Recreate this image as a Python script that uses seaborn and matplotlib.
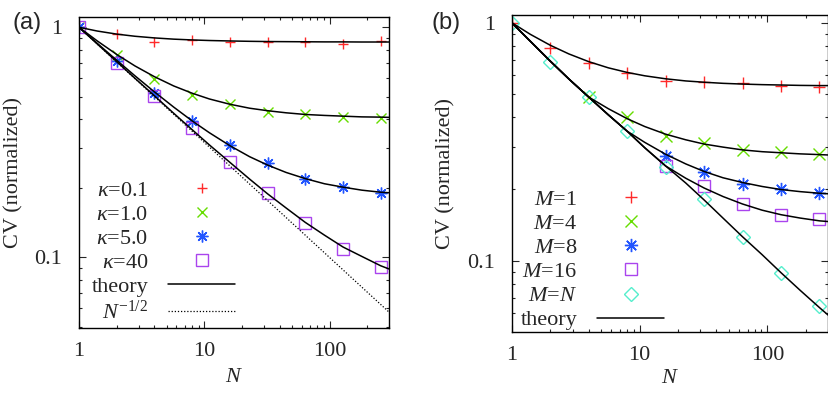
import matplotlib
matplotlib.use("Agg")
import matplotlib.pyplot as plt
import seaborn as sns
from matplotlib.ticker import LogLocator, NullFormatter

# N values of the simulation points and of the drawn theory curves
n_sim = [1, 2, 4, 8, 16, 32, 64, 128, 256]
n_theory = [1, 1.4, 2, 2.8, 4, 5.7, 8, 11, 16, 23, 32, 45, 64, 91, 128, 181, 256, 300]

# panel (a): different kappa
cv_k01 = [1.0, 0.933, 0.866, 0.883, 0.864, 0.864, 0.862, 0.850, 0.871]
cv_k1 = [1.0, 0.758, 0.599, 0.509, 0.463, 0.427, 0.420, 0.409, 0.404]
cv_k5 = [1.0, 0.714, 0.516, 0.391, 0.308, 0.256, 0.219, 0.202, 0.190]
cv_k40 = [1.0, 0.703, 0.502, 0.364, 0.261, 0.190, 0.141, 0.1087, 0.091]

th_k01 = [1.0, 0.963, 0.934, 0.914, 0.899, 0.888, 0.881, 0.876, 0.872, 0.869,
          0.867, 0.866, 0.865, 0.864, 0.864, 0.863, 0.863, 0.863]
th_k1 = [1.0, 0.872, 0.762, 0.679, 0.610, 0.556, 0.517, 0.488, 0.463, 0.445,
         0.434, 0.425, 0.418, 0.414, 0.411, 0.408, 0.407, 0.406]
th_k5 = [1.0, 0.851, 0.719, 0.615, 0.524, 0.450, 0.392, 0.348, 0.306, 0.274,
         0.252, 0.234, 0.220, 0.209, 0.202, 0.196, 0.192, 0.191]
th_k40 = [1.0, 0.846, 0.709, 0.600, 0.504, 0.423, 0.359, 0.308, 0.259, 0.219,
          0.189, 0.164, 0.142, 0.125, 0.111, 0.101, 0.092, 0.089]

pow_n = [1, 300]
pow_cv = [1.0, 0.0577]

# panel (b): different M
n_m4 = [4, 8, 16, 32, 64, 128, 256]
n_m8 = [16, 32, 64, 128, 256]
n_m16 = [16, 32, 64, 128, 256]
cv_m1 = [1.0, 0.785, 0.675, 0.613, 0.569, 0.565, 0.556, 0.544, 0.538]
cv_m4 = [0.489, 0.403, 0.334, 0.311, 0.292, 0.286, 0.281]
cv_m8 = [0.275, 0.236, 0.210, 0.200, 0.193]
cv_m16 = [0.250, 0.206, 0.1725, 0.1556, 0.1494]
cv_mn = [1.0, 0.686, 0.486, 0.352, 0.2485, 0.181, 0.1254, 0.0885, 0.0647]

th_m1 = [1.0, 0.893, 0.804, 0.739, 0.686, 0.646, 0.618, 0.598, 0.581, 0.569,
         0.562, 0.556, 0.552, 0.549, 0.547, 0.545, 0.544, 0.544]
th_m4 = [1.0, 0.835, 0.690, 0.580, 0.487, 0.435, 0.395, 0.366, 0.340, 0.322,
         0.309, 0.300, 0.292, 0.287, 0.284, 0.281, 0.279, 0.278]
th_m8 = [1.0, 0.835, 0.690, 0.580, 0.487, 0.410, 0.350, 0.314, 0.280, 0.255,
         0.237, 0.223, 0.213, 0.205, 0.199, 0.195, 0.192, 0.191]
th_m16 = [1.0, 0.835, 0.690, 0.580, 0.487, 0.410, 0.350, 0.298, 0.250, 0.222,
          0.202, 0.186, 0.173, 0.163, 0.156, 0.151, 0.147, 0.146]
th_mn = [1.0, 0.835, 0.690, 0.580, 0.487, 0.410, 0.350, 0.298, 0.250, 0.212,
         0.180, 0.151, 0.126, 0.106, 0.089, 0.075, 0.0635, 0.059]

red = '#ff2a2a'
green = '#66dd00'
blue = '#2255ff'
purple = '#aa44ee'
cyan = '#55eecc'

sns.set_theme(style='ticks')
plt.rcParams.update({
    'font.family': ['Liberation Serif', 'DejaVu Serif'],
    'mathtext.fontset': 'custom',
    'mathtext.rm': 'Liberation Serif',
    'mathtext.it': 'Liberation Serif:italic',
    'font.size': 16,
    'axes.linewidth': 1.0,
    'axes.edgecolor': 'black',
    'xtick.direction': 'in',
    'ytick.direction': 'in',
    'xtick.top': True,
    'ytick.right': True,
    'xtick.major.size': 5,
    'ytick.major.size': 5,
    'xtick.minor.size': 2.5,
    'ytick.minor.size': 2.5,
    'xtick.major.width': 0.8,
    'ytick.major.width': 0.8,
    'xtick.minor.width': 0.8,
    'ytick.minor.width': 0.8,
    'xtick.major.pad': 10,
    'ytick.major.pad': 12,
    'xtick.labelsize': 16,
    'ytick.labelsize': 16,
    'axes.labelsize': 16,
})

fig = plt.figure(figsize=(8.29, 3.96), dpi=100)
ax1 = fig.add_axes([79 / 829, 1 - 327.7 / 396, 310.3 / 829, 310.4 / 396])
ax2 = fig.add_axes([511.7 / 829, 1 - 331.7 / 396, 316.6 / 829, 317 / 396])


def points(ax, x, y, color, marker, ms, label):
    sns.lineplot(x=x, y=y, ax=ax, color=color, marker=marker, ms=ms,
                 mew=1.0, mec=color, mfc='none', linestyle='', label=label,
                 zorder=2)


def theory(ax, y, label=None):
    sns.lineplot(x=n_theory, y=y, ax=ax, color='black', lw=1.1, label=label,
                 zorder=3)


# panel (a)
points(ax1, n_sim, cv_k01, red, '+', 7.5, r'$\kappa$=0.1')
points(ax1, n_sim, cv_k1, green, 'x', 7.5, r'$\kappa$=1.0')
points(ax1, n_sim, cv_k5, blue, (8, 2, 0), 8.5, r'$\kappa$=5.0')
points(ax1, n_sim, cv_k40, purple, 's', 8, r'$\kappa$=40')
theory(ax1, th_k01, 'theory')
theory(ax1, th_k1)
theory(ax1, th_k5)
theory(ax1, th_k40)
sns.lineplot(x=pow_n, y=pow_cv, ax=ax1, color='black', lw=0.9,
             linestyle=(0, (1, 1.5)), label=r'$N^{-1/2}$', zorder=3)

# panel (b)
points(ax2, n_sim, cv_m1, red, '+', 8.5, r'$M$=1')
points(ax2, n_m4, cv_m4, green, 'x', 9, r'$M$=4')
points(ax2, n_m8, cv_m8, blue, (8, 2, 0), 9.5, r'$M$=8')
points(ax2, n_m16, cv_m16, purple, 's', 9, r'$M$=16')
points(ax2, n_sim, cv_mn, cyan, 'D', 7, r'$M$=$N$')
theory(ax2, th_m1, 'theory')
theory(ax2, th_m4)
theory(ax2, th_m8)
theory(ax2, th_m16)
theory(ax2, th_mn)

for ax in (ax1, ax2):
    ax.set_xscale('log')
    ax.set_yscale('log')
    ax.set_xlim(1, 300)
    ax.set_xticks([1, 10, 100])
    ax.set_xticklabels(['1', '10', '100'])
    ax.set_yticks([0.1, 1])
    ax.set_yticklabels(['0.1', '1'])
    ax.xaxis.set_minor_locator(LogLocator(base=10, subs=[2, 3, 4, 5, 6, 7, 8, 9]))
    ax.yaxis.set_minor_locator(LogLocator(base=10, subs=[2, 3, 4, 5, 6, 7, 8, 9]))
    ax.xaxis.set_minor_formatter(NullFormatter())
    ax.yaxis.set_minor_formatter(NullFormatter())
    ax.set_xlabel('$N$')
    ax.set_ylabel('CV (normalized)')
    ax.grid(False)
    for side in ax.spines.values():
        side.set_visible(True)
        side.set_color('black')

ax1.set_ylim(0.0495, 1.105)
ax2.set_ylim(0.0503, 1.08)

ax1.xaxis.set_label_coords(0.5, -0.13)
ax2.xaxis.set_label_coords(0.5, -0.118)
ax1.yaxis.set_label_coords(-0.18, 0.5)
ax2.yaxis.set_label_coords(-0.179, 0.5)

for ax, anchor in ((ax1, (0.503, 0.012)), (ax2, (0.481, 0.004))):
    handles, labels = ax.get_legend_handles_labels()
    ax.legend(handles, labels, loc='lower right', bbox_to_anchor=anchor,
              frameon=False, markerfirst=False, numpoints=1,
              handlelength=3.0, handletextpad=0.9, labelspacing=0.16,
              borderpad=0, borderaxespad=0, fontsize=16)

fig.text(13 / 829, 1 - 23 / 396, '(a)', fontsize=17, family='Liberation Sans',
         va='center', ha='left')
fig.text(432 / 829, 1 - 23 / 396, '(b)', fontsize=17, family='Liberation Sans',
         va='center', ha='left')

fig.savefig('out.png', dpi=100)
plt.close(fig)
